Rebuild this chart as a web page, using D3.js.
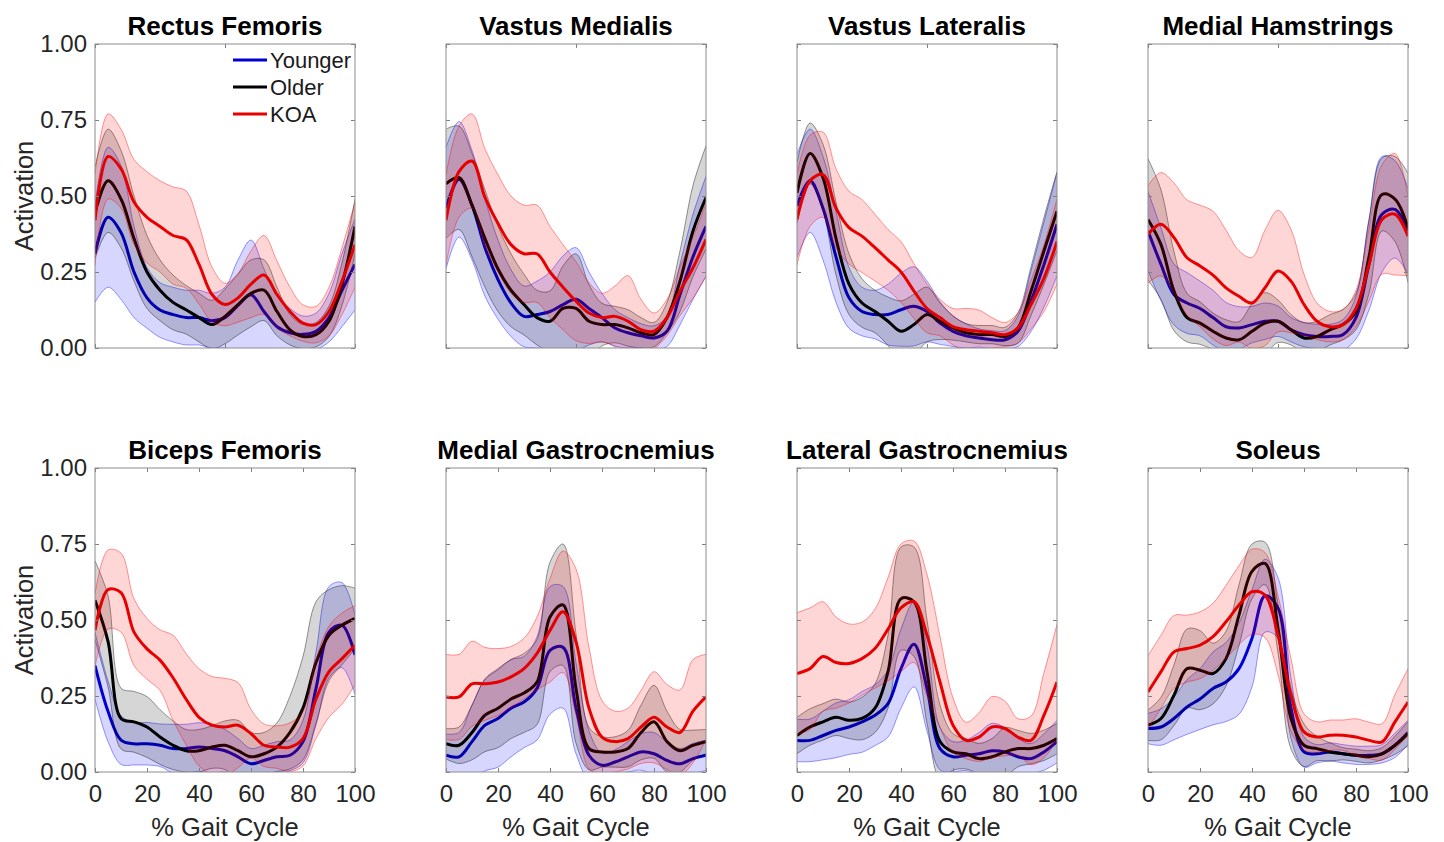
<!DOCTYPE html>
<meta charset="utf-8">
<style>

    body { margin: 0; background: #fff; }
    svg { font-family: "Liberation Sans", Arial, sans-serif; }

    .title { font-size: 26px; font-weight: bold; text-anchor: middle; fill: #000; }
    .tick text { font-size: 24px; fill: #262626; font-family: "Liberation Sans", Arial, sans-serif; }
    .tick line { stroke: #808080; }
    .axlabel { font-size: 25.5px; fill: #262626; text-anchor: middle; }
    .frame { fill: none; stroke: #8c8c8c; stroke-width: 1; }
    .legend text { font-size: 22px; fill: #1a1a1a; }

</style>
<svg width="1444" height="842"></svg>
<script src="https://d3js.org/d3.v7.min.js"></script>
<script>

    // % gait cycle sample points
    var gaitPct = [0, 5, 10, 15, 20, 25, 30, 35, 40, 45, 50, 55, 60, 65, 70, 75, 80, 85, 90, 95, 100];

    var muscles = ["Rectus Femoris", "Vastus Medialis", "Vastus Lateralis", "Medial Hamstrings",
                   "Biceps Femoris", "Medial Gastrocnemius", "Lateral Gastrocnemius", "Soleus"];

    var yTicks = [0, 0.25, 0.5, 0.75, 1];
    var xTicksTop = [0, 50, 100];
    var xTicksBottom = [0, 20, 40, 60, 80, 100];

    // Younger: mean and sd, one row per muscle
    var youngerMean = [
        [0.31,0.43,0.38,0.25,0.165,0.125,0.11,0.10,0.10,0.09,0.10,0.14,0.175,0.12,0.07,0.05,0.045,0.055,0.10,0.19,0.275],
        [0.46,0.555,0.47,0.33,0.225,0.148,0.104,0.11,0.12,0.143,0.16,0.13,0.10,0.066,0.05,0.04,0.033,0.055,0.176,0.30,0.40],
        [0.467,0.55,0.46,0.30,0.165,0.12,0.11,0.11,0.126,0.137,0.12,0.082,0.055,0.04,0.033,0.027,0.027,0.055,0.154,0.275,0.407],
        [0.385,0.275,0.176,0.148,0.13,0.10,0.07,0.066,0.077,0.088,0.088,0.06,0.044,0.038,0.038,0.044,0.10,0.275,0.44,0.456,0.385],
        [0.35,0.20,0.105,0.093,0.093,0.088,0.077,0.077,0.082,0.077,0.07,0.05,0.027,0.038,0.05,0.055,0.10,0.275,0.46,0.483,0.385],
        [0.055,0.05,0.10,0.154,0.176,0.21,0.23,0.275,0.40,0.41,0.21,0.055,0.022,0.033,0.05,0.066,0.06,0.038,0.027,0.044,0.055],
        [0.104,0.104,0.12,0.137,0.148,0.165,0.187,0.225,0.34,0.42,0.275,0.077,0.05,0.055,0.06,0.07,0.066,0.05,0.044,0.066,0.10],
        [0.143,0.148,0.176,0.214,0.24,0.275,0.296,0.34,0.44,0.58,0.54,0.21,0.066,0.06,0.066,0.06,0.055,0.055,0.06,0.088,0.13]
    ];
    var youngerSd = [
        [0.16,0.23,0.22,0.15,0.10,0.09,0.09,0.09,0.09,0.09,0.10,0.15,0.18,0.14,0.10,0.08,0.06,0.06,0.08,0.12,0.15],
        [0.20,0.19,0.18,0.16,0.13,0.11,0.10,0.11,0.13,0.16,0.17,0.12,0.08,0.06,0.05,0.04,0.04,0.05,0.10,0.14,0.165],
        [0.17,0.17,0.17,0.15,0.10,0.08,0.08,0.10,0.12,0.13,0.10,0.07,0.05,0.04,0.03,0.03,0.03,0.05,0.10,0.14,0.17],
        [0.13,0.12,0.10,0.10,0.09,0.09,0.08,0.07,0.06,0.06,0.05,0.04,0.04,0.04,0.04,0.05,0.07,0.15,0.19,0.16,0.14],
        [0.11,0.10,0.08,0.07,0.07,0.07,0.08,0.08,0.08,0.08,0.07,0.06,0.05,0.05,0.05,0.05,0.07,0.12,0.15,0.14,0.13],
        [0.07,0.08,0.12,0.15,0.16,0.16,0.15,0.17,0.21,0.20,0.15,0.08,0.04,0.04,0.05,0.06,0.07,0.06,0.05,0.05,0.05],
        [0.07,0.07,0.08,0.09,0.09,0.10,0.10,0.11,0.13,0.14,0.14,0.07,0.05,0.05,0.07,0.09,0.08,0.06,0.05,0.06,0.07],
        [0.05,0.06,0.07,0.09,0.10,0.12,0.13,0.15,0.16,0.12,0.10,0.10,0.05,0.03,0.03,0.03,0.03,0.03,0.03,0.04,0.04]
    ];

    // Older
    var olderMean = [
        [0.445,0.55,0.49,0.36,0.25,0.19,0.15,0.126,0.10,0.077,0.104,0.143,0.18,0.19,0.12,0.06,0.038,0.044,0.088,0.21,0.40],
        [0.54,0.56,0.47,0.36,0.26,0.19,0.143,0.10,0.088,0.13,0.13,0.088,0.077,0.077,0.066,0.05,0.044,0.10,0.22,0.385,0.495],
        [0.51,0.64,0.56,0.36,0.21,0.148,0.12,0.088,0.055,0.077,0.11,0.088,0.066,0.05,0.044,0.044,0.038,0.066,0.187,0.32,0.45],
        [0.423,0.34,0.187,0.10,0.082,0.055,0.033,0.027,0.055,0.082,0.088,0.06,0.033,0.038,0.06,0.077,0.12,0.30,0.505,0.49,0.395],
        [0.565,0.43,0.176,0.165,0.148,0.115,0.088,0.07,0.07,0.082,0.088,0.07,0.05,0.06,0.082,0.13,0.21,0.36,0.45,0.483,0.505],
        [0.093,0.088,0.13,0.187,0.21,0.24,0.26,0.296,0.51,0.55,0.275,0.077,0.066,0.066,0.077,0.13,0.165,0.10,0.07,0.088,0.10],
        [0.12,0.148,0.165,0.18,0.17,0.176,0.21,0.33,0.57,0.56,0.33,0.10,0.066,0.06,0.044,0.05,0.066,0.077,0.077,0.088,0.11],
        [0.154,0.176,0.253,0.34,0.335,0.324,0.373,0.516,0.66,0.686,0.472,0.176,0.088,0.077,0.066,0.06,0.055,0.05,0.06,0.088,0.126]
    ];
    var olderSd = [
        [0.15,0.17,0.16,0.14,0.12,0.10,0.09,0.08,0.08,0.08,0.09,0.10,0.11,0.10,0.08,0.05,0.04,0.04,0.05,0.07,0.09],
        [0.18,0.17,0.17,0.16,0.14,0.12,0.10,0.09,0.10,0.14,0.18,0.12,0.07,0.06,0.06,0.05,0.04,0.05,0.10,0.15,0.17],
        [0.10,0.10,0.11,0.12,0.10,0.08,0.07,0.08,0.10,0.10,0.09,0.06,0.04,0.03,0.03,0.03,0.03,0.05,0.08,0.11,0.13],
        [0.20,0.18,0.13,0.08,0.07,0.06,0.06,0.06,0.09,0.10,0.07,0.05,0.05,0.05,0.05,0.05,0.06,0.12,0.12,0.14,0.18],
        [0.13,0.15,0.10,0.10,0.10,0.09,0.08,0.07,0.07,0.07,0.08,0.10,0.08,0.07,0.08,0.12,0.17,0.20,0.15,0.13,0.10],
        [0.05,0.06,0.09,0.12,0.13,0.13,0.13,0.14,0.18,0.20,0.18,0.07,0.05,0.05,0.06,0.09,0.12,0.10,0.07,0.05,0.04],
        [0.06,0.06,0.06,0.06,0.06,0.07,0.08,0.12,0.17,0.18,0.17,0.12,0.06,0.05,0.05,0.06,0.08,0.06,0.05,0.05,0.05],
        [0.05,0.07,0.10,0.13,0.13,0.10,0.09,0.10,0.09,0.07,0.08,0.10,0.07,0.04,0.03,0.02,0.02,0.02,0.02,0.03,0.04]
    ];

    // KOA
    var koaMean = [
        [0.42,0.63,0.59,0.48,0.43,0.40,0.37,0.357,0.275,0.176,0.143,0.165,0.21,0.24,0.176,0.12,0.082,0.077,0.12,0.22,0.34],
        [0.42,0.58,0.615,0.495,0.41,0.34,0.31,0.31,0.25,0.20,0.154,0.115,0.10,0.104,0.088,0.06,0.055,0.10,0.187,0.264,0.357],
        [0.423,0.55,0.57,0.46,0.396,0.368,0.33,0.29,0.25,0.187,0.13,0.10,0.07,0.06,0.055,0.05,0.044,0.066,0.143,0.23,0.35],
        [0.374,0.407,0.363,0.297,0.27,0.24,0.198,0.17,0.148,0.198,0.253,0.22,0.143,0.088,0.07,0.077,0.13,0.275,0.423,0.44,0.368],
        [0.466,0.60,0.59,0.46,0.405,0.368,0.31,0.24,0.18,0.154,0.148,0.154,0.126,0.088,0.082,0.082,0.11,0.24,0.33,0.373,0.417],
        [0.247,0.247,0.29,0.29,0.296,0.313,0.34,0.39,0.466,0.527,0.428,0.21,0.115,0.10,0.11,0.148,0.18,0.148,0.13,0.20,0.247],
        [0.324,0.34,0.38,0.36,0.357,0.373,0.406,0.47,0.54,0.56,0.45,0.296,0.154,0.104,0.115,0.148,0.143,0.115,0.104,0.187,0.296],
        [0.263,0.33,0.395,0.406,0.417,0.445,0.494,0.549,0.593,0.582,0.45,0.253,0.132,0.115,0.121,0.121,0.115,0.104,0.099,0.165,0.23]
    ];
    var koaSd = [
        [0.15,0.14,0.13,0.14,0.15,0.15,0.16,0.16,0.13,0.09,0.07,0.08,0.11,0.13,0.11,0.08,0.06,0.06,0.08,0.11,0.14],
        [0.15,0.15,0.155,0.16,0.16,0.16,0.16,0.16,0.15,0.14,0.13,0.10,0.08,0.10,0.15,0.10,0.06,0.06,0.08,0.10,0.12],
        [0.15,0.15,0.14,0.13,0.12,0.12,0.11,0.10,0.10,0.09,0.08,0.06,0.06,0.07,0.07,0.05,0.04,0.05,0.08,0.11,0.14],
        [0.16,0.17,0.18,0.19,0.20,0.21,0.19,0.15,0.15,0.19,0.20,0.17,0.10,0.06,0.05,0.05,0.06,0.12,0.18,0.20,0.13],
        [0.12,0.13,0.13,0.11,0.10,0.10,0.14,0.15,0.16,0.16,0.16,0.14,0.08,0.07,0.07,0.08,0.09,0.13,0.15,0.15,0.13],
        [0.14,0.14,0.14,0.12,0.11,0.10,0.10,0.12,0.17,0.20,0.24,0.20,0.12,0.10,0.10,0.12,0.15,0.14,0.14,0.17,0.14],
        [0.20,0.20,0.18,0.15,0.13,0.12,0.13,0.17,0.21,0.20,0.20,0.15,0.09,0.06,0.08,0.10,0.09,0.06,0.08,0.14,0.19],
        [0.12,0.12,0.12,0.11,0.11,0.11,0.12,0.13,0.14,0.14,0.13,0.12,0.06,0.05,0.05,0.05,0.06,0.06,0.06,0.09,0.11]
    ];

    var groups = [
        {name: "Younger", mean: youngerMean, sd: youngerSd, line: "#0000d0", band: "#0000ff"},
        {name: "Older",   mean: olderMean,   sd: olderSd,   line: "#000000", band: "#000000"},
        {name: "KOA",     mean: koaMean,     sd: koaSd,     line: "#e60000", band: "#ff0000"}
    ];

    var svg = d3.select("svg"),
        panelW = 260,
        panelH = 304,
        colStep = 351,
        rowStep = 424,
        left0 = 95,
        top0 = 44;

    var x = d3.scaleLinear().domain([0, 100]).range([0, panelW]);
    var y = d3.scaleLinear().domain([0, 1]).range([panelH, 0]);

    var curve = d3.curveCatmullRom.alpha(0.5);

    var band = d3.area()
        .x(function(d) { return x(d.p); })
        .y0(function(d) { return y(d.m - d.s); })
        .y1(function(d) { return y(d.m + d.s); })
        .curve(curve);
    var upper = d3.line().x(function(d) { return x(d.p); }).y(function(d) { return y(d.m + d.s); }).curve(curve);
    var lower = d3.line().x(function(d) { return x(d.p); }).y(function(d) { return y(d.m - d.s); }).curve(curve);
    var meanLine = d3.line().x(function(d) { return x(d.p); }).y(function(d) { return y(d.m); }).curve(curve);

    muscles.forEach(function(name, m) {
        var col = m % 4, row = Math.floor(m / 4);
        var g = svg.append("g")
            .attr("transform", "translate(" + (left0 + col * colStep) + "," + (top0 + row * rowStep) + ")");

        g.append("clipPath").attr("id", "clip" + m)
            .append("rect").attr("width", panelW).attr("height", panelH);

        var plot = g.append("g").attr("clip-path", "url(#clip" + m + ")");

        groups.forEach(function(grp) {
            var pts = gaitPct.map(function(p, i) {
                return {p: p, m: grp.mean[m][i], s: grp.sd[m][i]};
            });
            plot.append("path").datum(pts).attr("d", band)
                .attr("fill", grp.band).attr("fill-opacity", 0.16);
            plot.append("path").datum(pts).attr("d", upper)
                .attr("fill", "none").attr("stroke", grp.band).attr("stroke-opacity", 0.4).attr("stroke-width", 1);
            plot.append("path").datum(pts).attr("d", lower)
                .attr("fill", "none").attr("stroke", grp.band).attr("stroke-opacity", 0.4).attr("stroke-width", 1);
            plot.append("path").datum(pts).attr("d", meanLine)
                .attr("fill", "none").attr("stroke", grp.line).attr("stroke-width", 3)
                .attr("stroke-linejoin", "round");
        });

        // axes, ticks pointing inward
        g.append("g")
            .call(d3.axisLeft(y).tickValues(yTicks).tickSize(-4).tickPadding(8)
                .tickFormat(col === 0 ? d3.format(".2f") : ""))
            .call(function(a) { a.select(".domain").remove(); });
        g.append("g").attr("transform", "translate(" + panelW + ",0)")
            .call(d3.axisRight(y).tickValues(yTicks).tickSize(-4).tickFormat(""))
            .call(function(a) { a.select(".domain").remove(); });
        g.append("g").attr("transform", "translate(0," + panelH + ")")
            .call(d3.axisBottom(x).tickValues(row === 1 ? xTicksBottom : xTicksTop).tickSize(-4).tickPadding(13)
                .tickFormat(row === 1 ? d3.format("d") : ""))
            .call(function(a) { a.select(".domain").remove(); });
        g.append("g")
            .call(d3.axisTop(x).tickValues(row === 1 ? xTicksBottom : xTicksTop).tickSize(-4).tickFormat(""))
            .call(function(a) { a.select(".domain").remove(); });

        g.append("rect").attr("class", "frame").attr("width", panelW).attr("height", panelH);

        g.append("text").attr("class", "title")
            .attr("x", panelW / 2).attr("y", -9).text(name);

        if (col === 0) {
            g.append("text").attr("class", "axlabel")
                .attr("transform", "translate(-62," + (panelH / 2) + ") rotate(-90)")
                .text("Activation");
        }
        if (row === 1) {
            g.append("text").attr("class", "axlabel")
                .attr("x", panelW / 2).attr("y", panelH + 64)
                .text("% Gait Cycle");
        }

        if (m === 0) {
            var lg = g.append("g").attr("class", "legend");
            groups.forEach(function(grp, i) {
                lg.append("line")
                    .attr("x1", 138).attr("x2", 172)
                    .attr("y1", 16 + i * 27).attr("y2", 16 + i * 27)
                    .attr("stroke", grp.line).attr("stroke-width", 3);
                lg.append("text")
                    .attr("x", 175).attr("y", 16 + i * 27).attr("dy", "0.35em")
                    .text(grp.name);
            });
        }
    });

</script>
